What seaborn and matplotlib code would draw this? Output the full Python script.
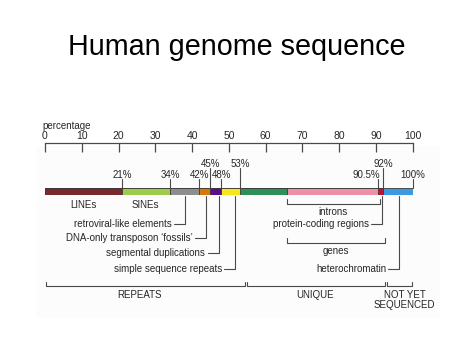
import matplotlib
matplotlib.use('Agg')
import matplotlib.pyplot as plt
import matplotlib.patches as mpatches
import seaborn as sns
import pandas as pd

sns.set_theme(style='white')
plt.rcParams['font.family'] = ['Liberation Sans', 'DejaVu Sans']

# ---------------- data ----------------
segments = ['LINEs', 'SINEs', 'retroviral-like elements', "DNA-only transposon \u2018fossils\u2019",
            'segmental duplications', 'simple sequence repeats', 'unique (other)',
            'introns', 'protein-coding regions', 'heterochromatin']
seg_end = [21, 34, 42, 45, 48, 53, 65.8, 90.5, 92, 100]
seg_colors = ['#7a2a2c', '#9dcb4c', '#8e8e8e', '#d8760f', '#5b0c8c', '#f6e61c',
              '#2f8f58', '#ec90a8', '#c8102e', '#3c9be0']

tick_values = [0, 10, 20, 30, 40, 50, 60, 70, 80, 90, 100]
tick_labels = ['0', '10', '20', '30', '40', '50', '60', '70', '80', '90', '100']

pct_marks = [21, 34, 42, 45, 48, 53, 90.5, 92, 100]
pct_labels = ['21%', '34%', '42%', '45%', '48%', '53%', '90.5%', '92%', '100%']
pct_high = [False, False, False, True, False, True, False, True, False]

bar_labels = ['LINEs', 'SINEs']
bar_label_x = [10.5, 27.3]

left_notes = ['retroviral-like elements', "DNA-only transposon \u2018fossils\u2019",
              'segmental duplications', 'simple sequence repeats']
left_note_x = [38, 43.8, 47.2, 51.8]
left_note_y = [224, 238, 253, 269]

right_notes = ['protein-coding regions', 'heterochromatin']
right_note_x = [91.6, 96.4]
right_note_y = [224, 269]

brackets = ['introns', 'genes']
bracket_start = [65.8, 65.8]
bracket_stop = [91.0, 92.5]
bracket_y = [204, 242.5]

groups = ['REPEATS', 'UNIQUE', 'NOT YET\nSEQUENCED']
group_start = [0.2, 55.0, 93.0]
group_stop = [54.3, 92.4, 99.8]
group_label_x = [25.8, 73.4, 97.8]

# ---------------- layout ----------------
W, H = 474, 355
X0 = 45.0       # pixel x of 0 %
S = 3.677       # pixels per percent
TXT = '#262626'
LN = '#4a4a4a'

fig = plt.figure(figsize=(W / 100, H / 100), dpi=100)
fig.patch.set_facecolor('white')

ax = fig.add_axes([0, 0, 1, 1])
ax.set_xlim(-X0 / S, (W - X0) / S)
ax.set_ylim(H, 0)
ax.axis('off')

# very faint background panel
ax.add_patch(mpatches.Rectangle(((36 - X0) / S, 146), 404 / S, 172,
                                facecolor='#fcfcfc', edgecolor='none', zorder=0))

# title
ax.text((237 - X0) / S, 55, 'Human genome sequence', ha='center', va='baseline',
        fontsize=20.7, color='black')

# scale axis
sc = fig.add_axes([X0 / W, 1 - 152 / H, 100 * S / W, 9 / H])
sc.set_xlim(0, 100)
sc.set_ylim(0, 1)
sc.patch.set_alpha(0)
for k in ['left', 'right', 'bottom']:
    sc.spines[k].set_visible(False)
sc.spines['top'].set_color(LN)
sc.spines['top'].set_linewidth(0.9)
sc.set_yticks([])
sc.set_xticks(tick_values)
sc.set_xticklabels(tick_labels)
sc.tick_params(axis='x', top=True, bottom=False, labeltop=True, labelbottom=False,
               direction='in', length=6.5, width=0.9, color=LN, pad=1.5,
               labelsize=7.5, labelcolor=TXT)
ax.text(-0.6, 126, 'percentage', ha='left', va='center', fontsize=7, color=TXT)

# stacked bar (cumulative overlay)
bar_ax = fig.add_axes([X0 / W, 1 - 195 / H, 100 * S / W, 7.5 / H])
df = pd.DataFrame({'segment': segments, 'end': seg_end, 'row': ['genome'] * len(segments)})
sns.barplot(data=df, x='end', y='row', hue='segment', hue_order=segments[::-1],
            palette=dict(zip(segments, seg_colors)), dodge=False, width=1,
            saturation=1, errorbar=None, edgecolor='#3a3a3a', linewidth=0.6,
            legend=False, orient='h', ax=bar_ax)
bar_ax.set_xlim(0, 100)
bar_ax.set_ylim(0.5, -0.5)
bar_ax.axis('off')

# percentage markers above the bar
for v, lab, hi in zip(pct_marks, pct_labels, pct_high):
    ytop = 168 if hi else 179
    ax.plot([v, v], [ytop, 188], color=LN, lw=0.8)
    if lab == '90.5%':
        ax.text(v + 0.6, 175, lab, ha='right', va='center', fontsize=7, color=TXT)
    else:
        ax.text(v, 164 if hi else 175, lab, ha='center', va='center', fontsize=7, color=TXT)

# labels under bar
for x, lab in zip(bar_label_x, bar_labels):
    ax.text(x, 204.5, lab, ha='center', va='center', fontsize=7, color=TXT)

# leader notes
for lab, x, y in zip(left_notes + right_notes, left_note_x + right_note_x,
                     left_note_y + right_note_y):
    ax.plot([x, x, x - 3.0], [195.5, y, y], color=LN, lw=0.8)
    ax.text(x - 3.6, y, lab, ha='right', va='center', fontsize=7, color=TXT)

# brackets for introns / genes
for lab, a, b, y in zip(brackets, bracket_start, bracket_stop, bracket_y):
    ax.plot([a, a, b, b], [y - 5, y, y, y - 5], color=LN, lw=0.8)
    ax.text((a + b) / 2, y + 8, lab, ha='center', va='center', fontsize=7, color=TXT)

# bottom group brackets
for lab, a, b, xl in zip(groups, group_start, group_stop, group_label_x):
    ax.plot([a, a, b, b], [281.5, 285.5, 285.5, 281.5], color=LN, lw=0.8)
    if '\n' in lab:
        l1, l2 = lab.split('\n')
        ax.text(xl, 295, l1, ha='center', va='center', fontsize=7, color=TXT)
        ax.text(xl, 305.5, l2, ha='center', va='center', fontsize=7, color=TXT)
    else:
        ax.text(xl, 295, lab, ha='center', va='center', fontsize=7, color=TXT)

fig.savefig('out.png', dpi=100)
